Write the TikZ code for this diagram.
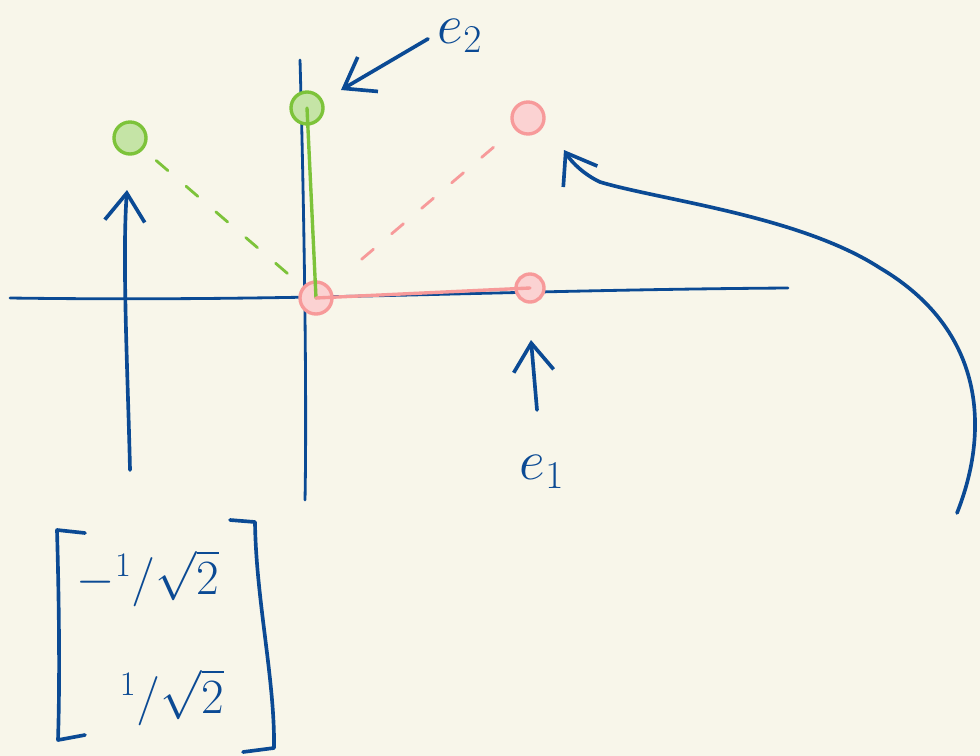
\documentclass[tikz,border=0pt]{standalone}
\usepackage{fix-cm}
\usepackage{amsmath}
\usetikzlibrary{arrows.meta}

\definecolor{ink}{HTML}{0B4A94}
\definecolor{leaf}{HTML}{7DC33A}
\definecolor{rose}{HTML}{F79A9A}
\definecolor{paper}{HTML}{F8F6EA}

\begin{document}
\begin{tikzpicture}[
  x=0.025cm, y=-0.025cm,
  >={Straight Barb[length=7mm, width=10mm]},
  axis/.style={draw=ink, line width=2pt, line cap=round},
  pen/.style={draw=ink, line width=2.6pt, line cap=round, line join=round},
  vec/.style={line width=2.4pt, line cap=round},
  proj/.style={line width=2pt, dash pattern=on 11pt off 17pt, line cap=round},
  pt/.style={circle, line width=2.4pt, minimum size=0.8cm, inner sep=0pt},
  lbl/.style={text=ink, font=\fontsize{40}{44}\selectfont},
  entry/.style={text=ink, font=\fontsize{35}{40}\selectfont}
]
% page, with the reference margins
\fill[paper] (0,0) rectangle (980,756);
\useasboundingbox (0,0) rectangle (980,756);

% axes
\coordinate (xl) at (10,298);
\coordinate (xr) at (788,288);
\coordinate (yt) at (300,60);
\coordinate (yb) at (305,500);
\draw[axis] (xl) .. controls (300,302) and (500,290) .. (xr);
\draw[axis] (yt) .. controls (304,200) and (307,400) .. (yb);

% points
\node[pt, draw=rose, fill=rose!45] (o)  at (316,298) {};
\node[pt, draw=rose, fill=rose!45, minimum size=0.7cm] (p1) at (530,288) {};
\node[pt, draw=rose, fill=rose!45] (p2) at (528,118) {};
\node[pt, draw=leaf, fill=leaf!45] (g2) at (307,108) {};
\node[pt, draw=leaf, fill=leaf!45] (g1) at (130,138) {};

% basis vectors and their rotated images
\draw[vec, leaf] (o.center) -- (g2.center);
\draw[vec, rose] (o.center) -- (p1.center);
\draw[proj, leaf, shorten <=12pt, shorten >=4pt] (g1) -- (o);
\draw[proj, rose, shorten <=30pt, shorten >=6pt] (o) -- (p2);

% labels
\node[lbl] (e2) at (460,36) {$e_2$};
\node[lbl] (e1) at (542,472) {$e_1$};
\draw[pen, ->, shorten <=4pt] (e2.west) -- ([shift={(34,-18)}]g2.center);
\draw[pen, ->] ([shift={(-5,-62)}]e1.center) -- ([shift={(1,52)}]p1.center);

% rotation arrows
\coordinate (u0) at (130,470);
\coordinate (u1) at (127,190);
\draw[pen, ->] (u0) .. controls (128,380) and (122,260) .. (u1);
\coordinate (c0) at (957,513);
\coordinate (c1) at (564,150);
\draw[pen, ->] (c0) .. controls (990,430) and (985,330) .. (880,268)
  .. controls (800,216) and (660,200) .. (600,182)
  .. controls (585,175) and (572,163) .. (c1);

% column vector
\draw[pen] (85,533) -- (57,530) .. controls (59,600) and (60,680) .. (58,740) -- (85,735);
\draw[pen] (230,520) -- (255,522) .. controls (256,600) and (275,680) .. (274,748) -- (243,752);
\node[entry] (r1) at (148,578) {$-{}^1/\sqrt{2}$};
\node[entry] (r2) at (172,697) {${}^1/\sqrt{2}$};
\end{tikzpicture}
\end{document}
